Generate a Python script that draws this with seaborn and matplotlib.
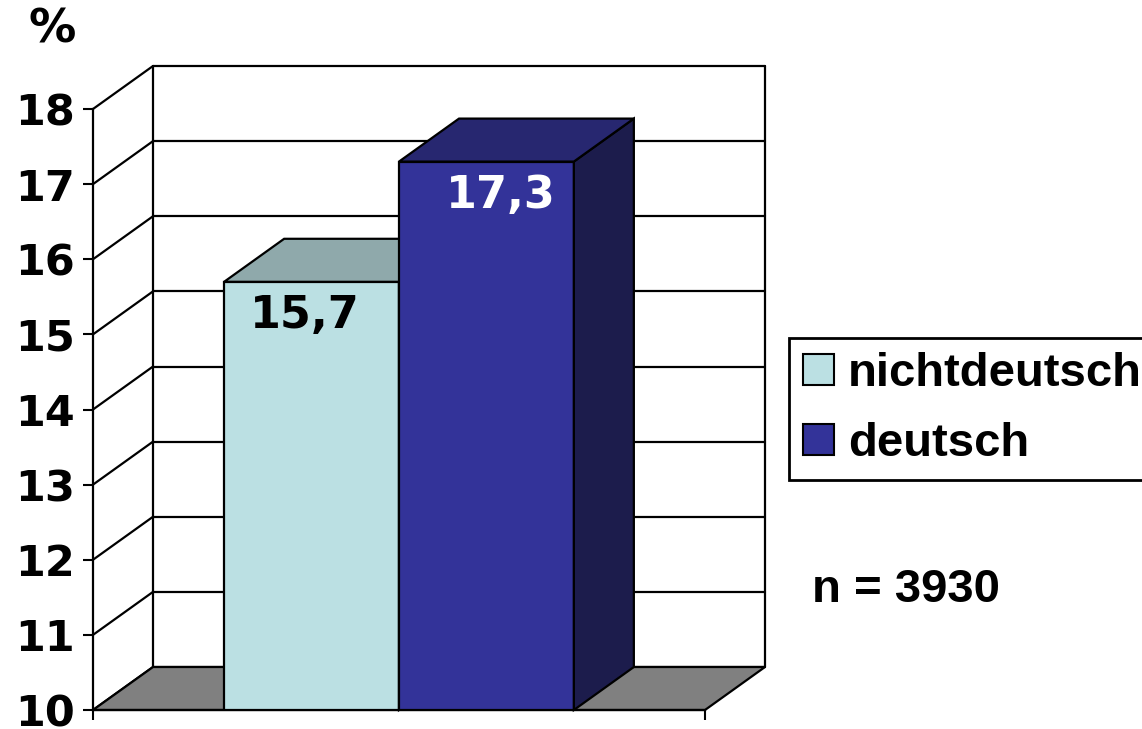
import numpy as np
import pandas as pd
import matplotlib
matplotlib.use("Agg")
import matplotlib.pyplot as plt
from matplotlib.patches import Patch, Polygon
from matplotlib.font_manager import FontProperties
import seaborn as sns

# ---- data ----
groups = ["nichtdeutsch", "deutsch"]
values = [15.7, 17.3]
value_labels = ["15,7", "17,3"]
y_ticks = [10, 11, 12, 13, 14, 15, 16, 17, 18]
n_label = "n = 3930"
unit_label = "%"

# ---- styles ----
front_colors = ["#BBE0E3", "#333399"]
top_colors = ["#8FA9AB", "#272770"]
side_colors = ["#7E9799", "#1C1C4C"]
label_colors = ["black", "white"]
label_shift = [-0.04, 0.08]
floor_color = "#808080"

sns.set_theme(style="white")
plt.rcParams["font.family"] = ["DejaVu Sans"]
plt.rcParams["text.color"] = "black"
plt.rcParams["axes.labelcolor"] = "black"
plt.rcParams["xtick.color"] = "black"
plt.rcParams["ytick.color"] = "black"

W, H = 1142, 729
fig = plt.figure(figsize=(W / 100, H / 100), dpi=100)
x_left, x_right, y_bottom, y_top = 93, 705, 710, 109
ax = fig.add_axes([x_left / W, 1 - y_bottom / H,
                   (x_right - x_left) / W, (y_bottom - y_top) / H])

df = pd.DataFrame({"group": groups, "value": values})
sns.barplot(data=df, x="group", y="value", hue="group", order=groups,
            hue_order=groups, palette=dict(zip(groups, front_colors)),
            saturation=1, width=1.0, edgecolor="black", linewidth=1.6,
            errorbar=None, legend=False, ax=ax)

xmin, xmax = -1.25, 2.25
ymin, ymax = y_ticks[0], y_ticks[-1]
ax.set_xlim(xmin, xmax)
ax.set_ylim(ymin, ymax)

# depth offset (in data units)
px_x = (x_right - x_left) / (xmax - xmin)
px_y = (y_bottom - y_top) / (ymax - ymin)
ddx = 60 / px_x
ddy = 43 / px_y

lw = 1.6
# back wall
for v in y_ticks:
    ax.plot([xmin + ddx, xmax + ddx], [v + ddy, v + ddy], color="black",
            lw=lw, clip_on=False, zorder=0.5)
    ax.plot([xmin, xmin + ddx], [v, v + ddy], color="black", lw=lw,
            clip_on=False, zorder=0.5)
for xx in (xmin + ddx, xmax + ddx):
    ax.plot([xx, xx], [ymin + ddy, ymax + ddy], color="black", lw=lw,
            clip_on=False, zorder=0.5)
# floor
floor = Polygon([(xmin, ymin), (xmax, ymin), (xmax + ddx, ymin + ddy),
                 (xmin + ddx, ymin + ddy)], closed=True, facecolor=floor_color,
                edgecolor="black", lw=lw, clip_on=False, zorder=0.8)
ax.add_patch(floor)

# bars: 3D faces
bars = sorted([p for p in ax.patches if p is not floor], key=lambda p: p.get_x())
for i, p in enumerate(bars):
    x0 = p.get_x()
    x1 = x0 + p.get_width()
    v = p.get_height()
    z = 2 + 2 * i
    p.set_zorder(z)
    top = Polygon([(x0, v), (x1, v), (x1 + ddx, v + ddy), (x0 + ddx, v + ddy)],
                  closed=True, facecolor=top_colors[i], edgecolor="black",
                  lw=lw, clip_on=False, zorder=z + 0.5)
    side = Polygon([(x1, ymin), (x1, v), (x1 + ddx, v + ddy),
                    (x1 + ddx, ymin + ddy)], closed=True,
                   facecolor=side_colors[i], edgecolor="black", lw=lw,
                   clip_on=False, zorder=z + 0.5)
    ax.add_patch(side)
    ax.add_patch(top)
    ax.text((x0 + x1) / 2 + label_shift[i], v - 0.45, value_labels[i],
            ha="center", va="center", fontsize=32, fontweight="bold",
            color=label_colors[i], zorder=z + 1)

# axes styling
ax.set_xlabel("")
ax.set_ylabel("")
ax.set_yticks(y_ticks)
ax.set_yticklabels([str(t) for t in y_ticks], fontsize=31, fontweight="bold",
                   color="black")
ax.set_xticks([xmin, xmax])
ax.set_xticklabels([])
ax.tick_params(axis="both", left=True, bottom=True, direction="out",
               length=7.2, width=1.5, color="black", pad=6, labelcolor="black")
for s in ["top", "right"]:
    ax.spines[s].set_visible(False)
for s in ["left", "bottom"]:
    ax.spines[s].set_color("black")
    ax.spines[s].set_linewidth(1.6)
    ax.spines[s].set_zorder(10)
ax.patch.set_alpha(0)

# unit label
fig.text(52 / W, 1 - 30 / H, unit_label, ha="center", va="center",
         fontsize=34, fontweight="bold", color="black")

# legend
leg_font = FontProperties(family="Liberation Sans", weight="bold", size=34)
handles = [Patch(facecolor=c, edgecolor="black", lw=1.5, label=g)
           for g, c in zip(groups, front_colors)]
leg = fig.legend(handles=handles, loc="upper left",
                 bbox_to_anchor=(789 / W, 1 - 338 / H), frameon=True,
                 fancybox=False, edgecolor="black", framealpha=1,
                 prop=leg_font, handlelength=0.65, handleheight=0.65,
                 handletextpad=0.3, borderpad=0.3, labelspacing=0.55,
                 borderaxespad=0)
leg.get_frame().set_linewidth(2)
for t in leg.get_texts():
    t.set_color("black")

fig.text(812 / W, 1 - 590 / H, n_label, ha="left", va="center",
         fontproperties=leg_font, color="black")

fig.savefig("out.png", dpi=100)
